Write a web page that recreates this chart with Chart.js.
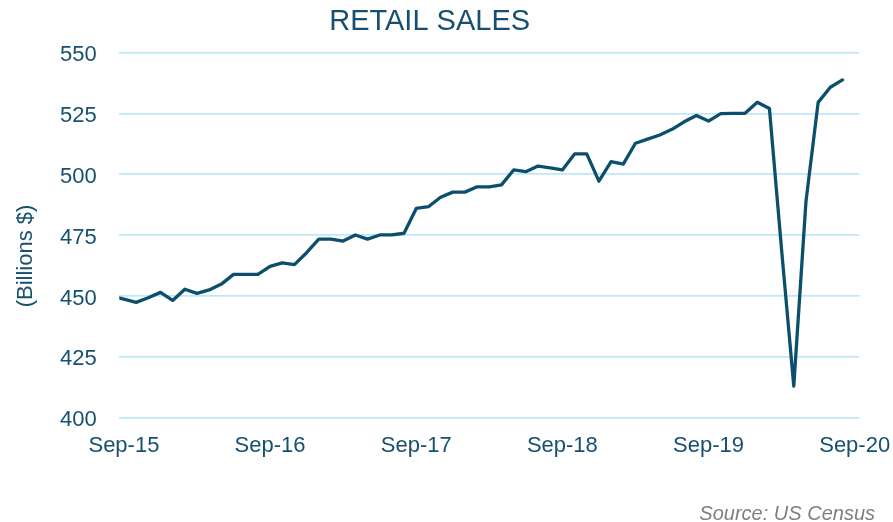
<!DOCTYPE html>
<html>
<head>
<meta charset="utf-8">
<script src="https://cdn.jsdelivr.net/npm/chart.js@4"></script>
<style>
  html, body { margin: 0; padding: 0; background: #fff; }
  #wrap { width: 893px; height: 522px; position: relative; }
</style>
</head>
<body>
<div id="wrap"><canvas id="salesChart"></canvas></div>
<script>
// monthly retail sales, billions $ (Aug-15 point sits just left of the axis and is clipped)
const months = [
  'Aug-15', 'Sep-15', 'Oct-15', 'Nov-15', 'Dec-15',
  'Jan-16', 'Feb-16', 'Mar-16', 'Apr-16', 'May-16', 'Jun-16', 'Jul-16', 'Aug-16', 'Sep-16', 'Oct-16', 'Nov-16', 'Dec-16',
  'Jan-17', 'Feb-17', 'Mar-17', 'Apr-17', 'May-17', 'Jun-17', 'Jul-17', 'Aug-17', 'Sep-17', 'Oct-17', 'Nov-17', 'Dec-17',
  'Jan-18', 'Feb-18', 'Mar-18', 'Apr-18', 'May-18', 'Jun-18', 'Jul-18', 'Aug-18', 'Sep-18', 'Oct-18', 'Nov-18', 'Dec-18',
  'Jan-19', 'Feb-19', 'Mar-19', 'Apr-19', 'May-19', 'Jun-19', 'Jul-19', 'Aug-19', 'Sep-19', 'Oct-19', 'Nov-19', 'Dec-19',
  'Jan-20', 'Feb-20', 'Mar-20', 'Apr-20', 'May-20', 'Jun-20', 'Jul-20', 'Aug-20'
];
const sales = [
  449.9, 448.7, 447.4, 449.3, 451.5,
  448.2, 452.8, 451.1, 452.5, 454.9, 458.9, 458.9, 458.9, 462.2, 463.6, 462.9, 467.8,
  473.4, 473.4, 472.6, 475.1, 473.4, 475.1, 475.1, 475.8, 486.0, 486.7, 490.6, 492.7,
  492.7, 494.9, 494.9, 495.7, 501.8, 501.1, 503.4, 502.7, 501.8, 508.4, 508.4, 497.2,
  505.2, 504.2, 512.8, 514.5, 516.2, 518.5, 521.6, 524.2, 521.9, 525.0, 525.1, 525.1,
  529.6, 527.1, 469.0, 413.0, 488.8, 529.6, 535.8, 538.8
];
const tickLabels = ['Sep-15', 'Sep-16', 'Sep-17', 'Sep-18', 'Sep-19', 'Sep-20'];
const yTicks = [400, 425, 450, 475, 500, 525, 550];

const firstTick = months.indexOf(tickLabels[0]);
const points = sales.map((v, i) => ({ x: i - firstTick, y: v }));
// Sep-20 has no data yet, so place each yearly tick 12 months apart
const tickPos = tickLabels.map((l, i) => i * 12);

const blue = '#0b4f6c';
const textBlue = '#17506e';
const font = 'Liberation Sans, Arial, sans-serif';

const extraText = {
  id: 'extraText',
  afterDraw(chart) {
    const ctx = chart.ctx;
    ctx.save();
    ctx.fillStyle = textBlue;
    ctx.font = '22px ' + font;
    ctx.textAlign = 'center';
    ctx.textBaseline = 'middle';
    ctx.translate(26, 256);
    ctx.rotate(-Math.PI / 2);
    ctx.fillText('(Billions $)', 0, 0);
    ctx.restore();

    ctx.save();
    ctx.fillStyle = '#7f7f7f';
    ctx.font = 'italic 20px ' + font;
    ctx.textAlign = 'right';
    ctx.textBaseline = 'middle';
    ctx.fillText('Source: US Census', 875, 514);
    ctx.restore();
  }
};

new Chart(document.getElementById('salesChart'), {
  type: 'line',
  data: {
    datasets: [{
      label: 'Retail Sales',
      data: points,
      borderColor: blue,
      borderWidth: 3.3,
      pointRadius: 0,
      tension: 0,
      borderJoinStyle: 'round',
      borderCapStyle: 'round',
      fill: false
    }]
  },
  options: {
    responsive: true,
    maintainAspectRatio: false,
    animation: false,
    layout: { padding: { left: 0, right: 33.7, top: 0, bottom: 0 } },
    plugins: {
      legend: { display: false },
      tooltip: { enabled: false },
      title: {
        display: true,
        text: 'RETAIL SALES',
        color: textBlue,
        font: { family: font, size: 29, weight: 'normal', lineHeight: 1.2 },
        padding: { top: 5, bottom: 12.9 }
      }
    },
    scales: {
      x: {
        type: 'linear',
        min: -0.38,
        max: 60.38,
        grid: { display: false, drawTicks: false },
        border: { display: false },
        afterBuildTicks: scale => { scale.ticks = tickPos.map(v => ({ value: v })); },
        afterFit: scale => { scale.height = 104.3; scale.paddingLeft = 0; scale.paddingRight = 0; },
        ticks: {
          autoSkip: false,
          maxRotation: 0,
          padding: 15,
          color: textBlue,
          font: { family: font, size: 22 },
          callback: v => tickLabels[tickPos.indexOf(v)]
        }
      },
      y: {
        min: 400,
        max: 550,
        afterBuildTicks: scale => { scale.ticks = yTicks.map(v => ({ value: v })); },
        afterFit: scale => { scale.width = 119.3; scale.paddingTop = 0; scale.paddingBottom = 0; },
        grid: { color: '#bfe7f9', lineWidth: 1.8, drawTicks: false },
        border: { display: false },
        ticks: {
          padding: 22.6,
          color: textBlue,
          labelOffset: 2.5,
          font: { family: font, size: 22 }
        }
      }
    }
  },
  plugins: [extraText]
});
</script>
</body>
</html>
